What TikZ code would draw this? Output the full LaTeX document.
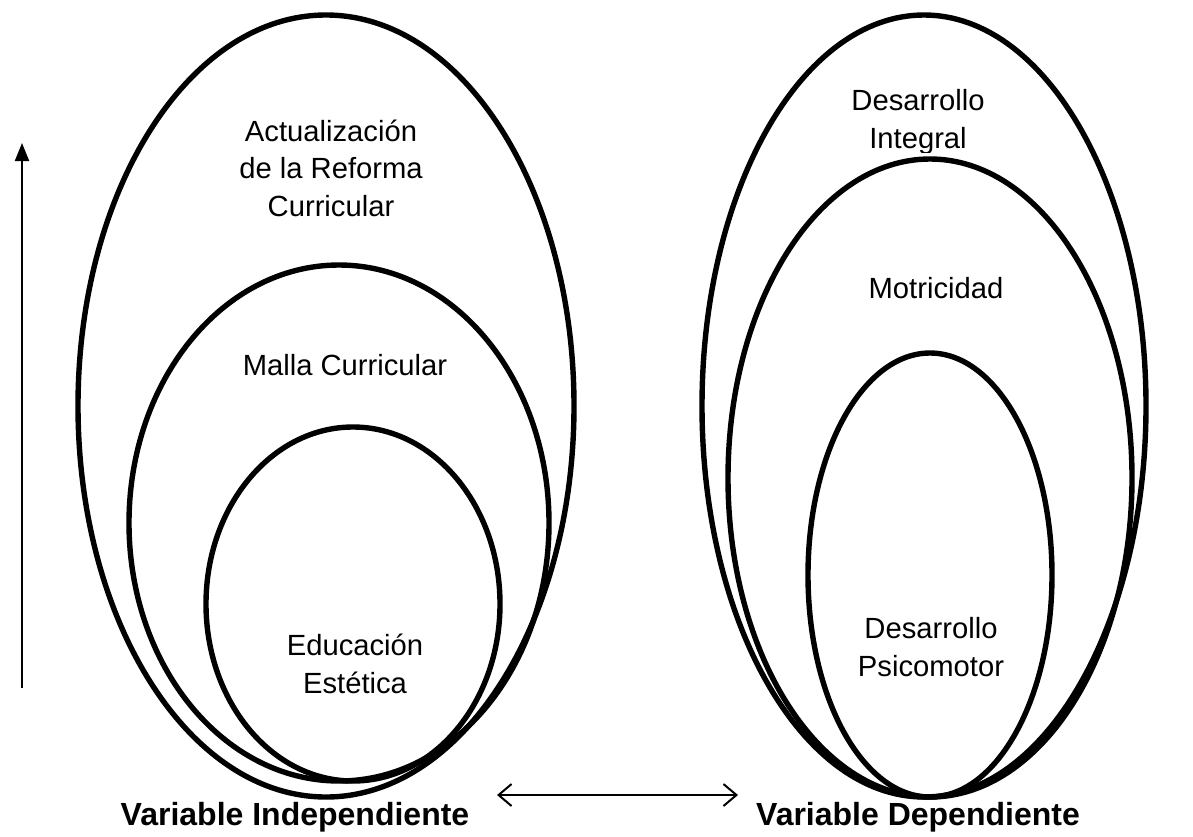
\documentclass[tikz,border=0pt]{standalone}
\usepackage{fontspec}
\setmainfont{Liberation Sans}
\usetikzlibrary{arrows.meta}

\tikzset{
  ring/.style={line width=2.7pt},
  ringtext/.style={align=center, font=\fontsize{14.6}{18.75}\selectfont},
  varname/.style={font=\fontsize{16}{19}\selectfont\bfseries},
  flecha/.style={line width=1pt}
}

\begin{document}
\begin{tikzpicture}[x=0.5pt, y=-0.5pt]
    \useasboundingbox (0,0) rectangle (1193,836);

    % --- Variable independiente ---
    \draw[ring] (326,406) ellipse [x radius=248, y radius=391];
    \draw[ring] (339,523) ellipse [x radius=210, y radius=258];
    \draw[ring] (353,604) ellipse [x radius=147, y radius=177];

    \node[ringtext] (actualizacion) at (331,168) {Actualización\\de la Reforma\\Curricular};
    \node[ringtext] (malla) at (345,365) {Malla Curricular};
    \node[ringtext] (educacion) at (355,664) {Educación\\Estética};

    % --- Variable dependiente ---
    \draw[ring] (924,406) ellipse [x radius=222, y radius=391];
    \draw[ring] (930,478) ellipse [x radius=202, y radius=319];
    \draw[ring] (930,575) ellipse [x radius=122, y radius=222];

    % el texto de arriba queda cortado por el segundo ovalo
    \begin{scope}
        \clip (780,0) rectangle (1060,152);
        \node[ringtext] (integral) at (918,122) {Desarrollo\\Integral};
    \end{scope}
    \node[ringtext] (motricidad) at (936,288) {Motricidad};
    \node[ringtext] (psicomotor) at (931,647) {Desarrollo\\Psicomotor};

    % --- Flechas ---
    \coordinate (sube0) at (22,688);
    \coordinate (sube1) at (22,143);
    \draw[flecha, -{Triangle[width=7pt,length=9pt]}] (sube0) -- (sube1);

    \coordinate (rel0) at (497,795);
    \coordinate (rel1) at (738,795);
    \draw[flecha, {Straight Barb[width=11pt,length=6.5pt]}-{Straight Barb[width=11pt,length=6.5pt]}] (rel0) -- (rel1);

    % --- Nombres de las variables ---
    \node[varname] (indep) at (295,817) {Variable Independiente};
    \node[varname] (dep) at (918,817) {Variable Dependiente};
\end{tikzpicture}
\end{document}
